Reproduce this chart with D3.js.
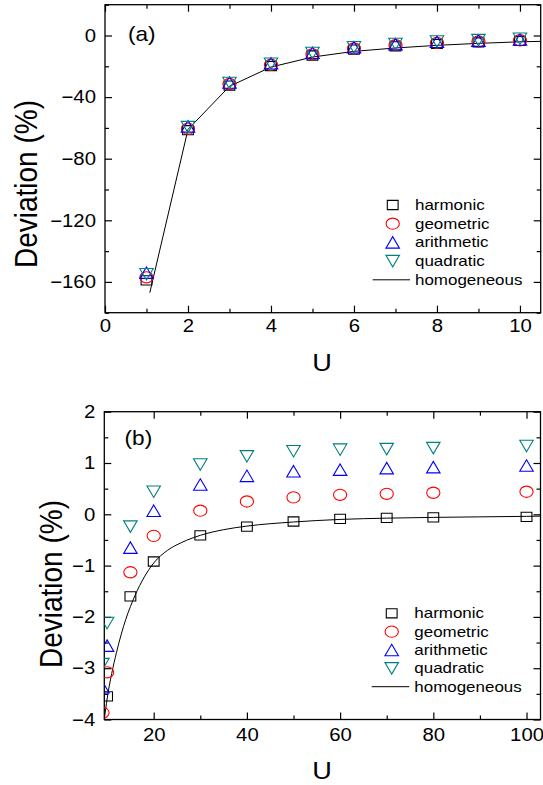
<!DOCTYPE html>
<html>
<head>
<meta charset="utf-8">
<script src="https://cdn.jsdelivr.net/npm/d3@7"></script>
<style>
  html, body { margin: 0; padding: 0; background: #fff; }
  svg { display: block; }
  text { font-family: "Liberation Sans", Arial, sans-serif; fill: #000; }
</style>
</head>
<body>
<svg id="chart" width="543" height="785"></svg>
<script>
// ---------------- DATA ----------------
const seriesNames = ["harmonic", "geometric", "arithmetic", "quadratic"];
const homogeneousName = "homogeneous";

// Panel (a)
const uA = [1, 2, 3, 4, 5, 6, 7, 8, 9, 10];
const aHarmonic  = [-159, -61.5, -32.5, -19.8, -13.0, -9.2, -7.0, -5.5, -4.5, -3.55];
const aGeometric = [-157, -60.5, -31.5, -19.0, -12.2, -8.4, -6.3, -4.8, -3.9, -3.1];
const aArithmetic= [-154, -59.0, -30.5, -18.0, -11.2, -7.6, -5.6, -4.1, -3.3, -2.6];
const aQuadratic = [-155, -59.5, -30.8, -18.3, -11.4, -7.6, -5.5, -3.9, -3.0, -2.15];
const aHomU = [1.08, 2, 3, 4, 5, 6, 7, 8, 9, 10, 10.5];
const aHomV = [-167, -61, -33, -20.5, -14, -10.3, -8.1, -6.4, -5.1, -4.1, -3.8];
const aXTicks = [0, 2, 4, 6, 8, 10];
const aXMinor = [1, 3, 5, 7, 9];
const aYTicks = [-160, -120, -80, -40, 0];
const aYMinor = [-180, -140, -100, -60, -20, 20];

// Panel (b)
const uB = [9, 10, 15, 20, 30, 40, 50, 60, 70, 80, 100];
const bHarmonic  = [-4.3, -3.55, -1.6, -0.92, -0.41, -0.24, -0.14, -0.09, -0.07, -0.06, -0.05];
const bGeometric = [-3.87, -3.08, -1.13, -0.42, 0.07, 0.25, 0.33, 0.38, 0.40, 0.42, 0.44];
const bArithmetic= [-3.37, -2.56, -0.65, 0.07, 0.58, 0.75, 0.84, 0.87, 0.90, 0.92, 0.95];
const bQuadratic = [-2.92, -2.12, -0.24, 0.44, 0.97, 1.13, 1.23, 1.26, 1.27, 1.29, 1.33];
const bHomU = [9.4, 10, 11, 12, 13, 14, 15, 16, 18, 20, 23, 26, 30, 35, 40, 50, 60, 70, 80, 90, 100, 103];
const bHomV = [-4.0, -3.6, -3.1, -2.7, -2.35, -2.05, -1.8, -1.58, -1.22, -0.95, -0.7, -0.55, -0.41, -0.3, -0.23, -0.15, -0.1, -0.075, -0.06, -0.05, -0.04, -0.035];
const bXTicks = [20, 40, 60, 80, 100];
const bXMinor = [30, 50, 70, 90];
const bYTicks = [-4, -3, -2, -1, 0, 1, 2];
const bYMinor = [-3.5, -2.5, -1.5, -0.5, 0.5, 1.5];

// ---------------- STYLE ----------------
const colors = { harmonic: "#000000", geometric: "#ff0000", arithmetic: "#0000ff", quadratic: "#008080" };
const SX = 1.13; // horizontal text stretch of the original

const svg = d3.select("#chart");
svg.append("rect").attr("width", 543).attr("height", 785).attr("fill", "#fff");

function markerPath(kind) {
  const w = 13.5, h = 11.5;
  if (kind === "harmonic") { const a = 5.4, b = 4.6; return `M${-a},${-b}H${a}V${b}H${-a}Z`; }
  if (kind === "geometric") { const rx = 6.6, ry = 5.6;
    return `M${-rx},0A${rx},${ry} 0 1,0 ${rx},0A${rx},${ry} 0 1,0 ${-rx},0Z`; }
  if (kind === "arithmetic") return `M0,${-h/2}L${w/2},${h/2}L${-w/2},${h/2}Z`;
  return `M0,${h/2}L${w/2},${-h/2}L${-w/2},${-h/2}Z`;
}

let clipId = 0;
function drawPanel(cfg) {
  const g = svg.append("g");
  const x = d3.scaleLinear().domain(cfg.xDomain).range([cfg.left, cfg.right]);
  const y = d3.scaleLinear().domain(cfg.yDomain).range([cfg.bottom, cfg.top]);
  const id = "clip" + (clipId++);
  svg.append("defs").append("clipPath").attr("id", id)
    .append("rect").attr("x", cfg.left).attr("y", cfg.top)
    .attr("width", cfg.right - cfg.left).attr("height", cfg.bottom - cfg.top);

  const styleAxis = sel => {
    sel.select(".domain").remove();
    sel.selectAll("line").attr("stroke", "#000").attr("stroke-width", 1.2);
  };
  const fontSize = 18;
  const styleText = s => s.selectAll("text").attr("font-size", fontSize)
    .attr("font-family", "Liberation Sans, Arial, sans-serif").attr("fill", "#000")
    .attr("transform", `scale(${SX},1)`);
  // bottom
  g.append("g").attr("transform", `translate(0,${cfg.bottom})`)
    .call(d3.axisBottom(x).tickValues(cfg.xTicks).tickSizeInner(-7).tickSizeOuter(0).tickPadding(cfg.xPad).tickFormat(d3.format("d")))
    .call(styleAxis).call(styleText);
  g.append("g").attr("transform", `translate(0,${cfg.bottom})`)
    .call(d3.axisBottom(x).tickValues(cfg.xMinor).tickSizeInner(-4).tickSizeOuter(0).tickFormat(""))
    .call(styleAxis);
  // top
  g.append("g").attr("transform", `translate(0,${cfg.top})`)
    .call(d3.axisTop(x).tickValues(cfg.xTicks).tickSizeInner(-7).tickSizeOuter(0).tickFormat(""))
    .call(styleAxis);
  g.append("g").attr("transform", `translate(0,${cfg.top})`)
    .call(d3.axisTop(x).tickValues(cfg.xMinor).tickSizeInner(-4).tickSizeOuter(0).tickFormat(""))
    .call(styleAxis);
  // left
  g.append("g").attr("transform", `translate(${cfg.left},0)`)
    .call(d3.axisLeft(y).tickValues(cfg.yTicks).tickSizeInner(-7).tickSizeOuter(0).tickPadding(8).tickFormat(d3.format("d")))
    .call(styleAxis).call(styleText);
  g.append("g").attr("transform", `translate(${cfg.left},0)`)
    .call(d3.axisLeft(y).tickValues(cfg.yMinor).tickSizeInner(-4).tickSizeOuter(0).tickFormat(""))
    .call(styleAxis);
  // right
  g.append("g").attr("transform", `translate(${cfg.right},0)`)
    .call(d3.axisRight(y).tickValues(cfg.yTicks).tickSizeInner(-7).tickSizeOuter(0).tickFormat(""))
    .call(styleAxis);
  g.append("g").attr("transform", `translate(${cfg.right},0)`)
    .call(d3.axisRight(y).tickValues(cfg.yMinor).tickSizeInner(-4).tickSizeOuter(0).tickFormat(""))
    .call(styleAxis);

  // frame
  g.append("rect").attr("x", cfg.left).attr("y", cfg.top)
    .attr("width", cfg.right - cfg.left).attr("height", cfg.bottom - cfg.top)
    .attr("fill", "none").attr("stroke", "#000").attr("stroke-width", 1.3);

  const plot = g.append("g").attr("clip-path", `url(#${id})`);
  // homogeneous line
  const lineData = cfg.homU.map((u, i) => [u, cfg.homV[i]]);
  plot.append("path").datum(lineData)
    .attr("d", d3.line().x(d => x(d[0])).y(d => y(d[1])).curve(cfg.curve))
    .attr("fill", "none").attr("stroke", "#000").attr("stroke-width", 1);

  // markers
  cfg.series.forEach((vals, si) => {
    const name = seriesNames[si];
    plot.selectAll(null).data(cfg.u.map((u, i) => [u, vals[i]])).enter()
      .append("path")
      .attr("transform", d => `translate(${x(d[0])},${y(d[1])})`)
      .attr("d", markerPath(name))
      .attr("fill", "none").attr("stroke", colors[name]).attr("stroke-width", 1.1);
  });

  // panel tag
  g.append("text").attr("transform", `translate(${cfg.tag[1]},${cfg.tag[2]}) scale(${SX},1)`)
    .attr("font-size", 20).text(cfg.tag[0]);

  // axis titles
  g.append("text")
    .attr("transform", `translate(${cfg.xTitle[0]},${cfg.xTitle[1]}) scale(${SX},1)`)
    .attr("text-anchor", "middle").attr("font-size", 24).text("U");
  g.append("text")
    .attr("transform", `translate(${cfg.yTitle[0]},${cfg.yTitle[1]}) scale(${SX},1) rotate(-90)`)
    .attr("text-anchor", "middle").attr("font-size", 28).text("Deviation (%)");

  // legend
  const lg = g.append("g");
  const rows = seriesNames.concat([homogeneousName]);
  rows.forEach((name, i) => {
    const cy = cfg.legend.y0 + i * cfg.legend.dy;
    if (i < 4) {
      lg.append("path").attr("transform", `translate(${cfg.legend.mx},${cy})`)
        .attr("d", markerPath(name)).attr("fill", "none").attr("stroke", colors[name]).attr("stroke-width", 1.1);
    } else {
      lg.append("line").attr("x1", cfg.legend.lx1).attr("x2", cfg.legend.lx2)
        .attr("y1", cy).attr("y2", cy).attr("stroke", "#000").attr("stroke-width", 1);
    }
    lg.append("text").attr("transform", `translate(${cfg.legend.tx},${cy + 5}) scale(${SX},1)`)
      .attr("font-size", 15).text(name);
  });
}

drawPanel({
  left: 105, right: 540.7, top: 4.7, bottom: 312.7,
  xDomain: [0, 10.5], yDomain: [-180, 20],
  xTicks: aXTicks, xMinor: aXMinor, yTicks: aYTicks, yMinor: aYMinor, xPad: 7,
  u: uA, series: [aHarmonic, aGeometric, aArithmetic, aQuadratic],
  homU: aHomU, homV: aHomV, curve: d3.curveLinear,
  tag: ["(a)", 128, 41],
  xTitle: [322, 371], yTitle: [37, 184],
  legend: { y0: 205, dy: 18.7, mx: 392.7, tx: 415, lx1: 372.7, lx2: 410 }
});

drawPanel({
  left: 104.3, right: 540.5, top: 411.7, bottom: 719.5,
  xDomain: [9.4, 103], yDomain: [-4, 2],
  xTicks: bXTicks, xMinor: bXMinor, yTicks: bYTicks, yMinor: bYMinor, xPad: 9,
  u: uB, series: [bHarmonic, bGeometric, bArithmetic, bQuadratic],
  homU: bHomU, homV: bHomV, curve: d3.curveMonotoneX,
  tag: ["(b)", 124.6, 445],
  xTitle: [322, 779], yTitle: [61.7, 584],
  legend: { y0: 613.3, dy: 18.35, mx: 391.7, tx: 414.3, lx1: 371.7, lx2: 409.3 }
});
</script>
</body>
</html>
